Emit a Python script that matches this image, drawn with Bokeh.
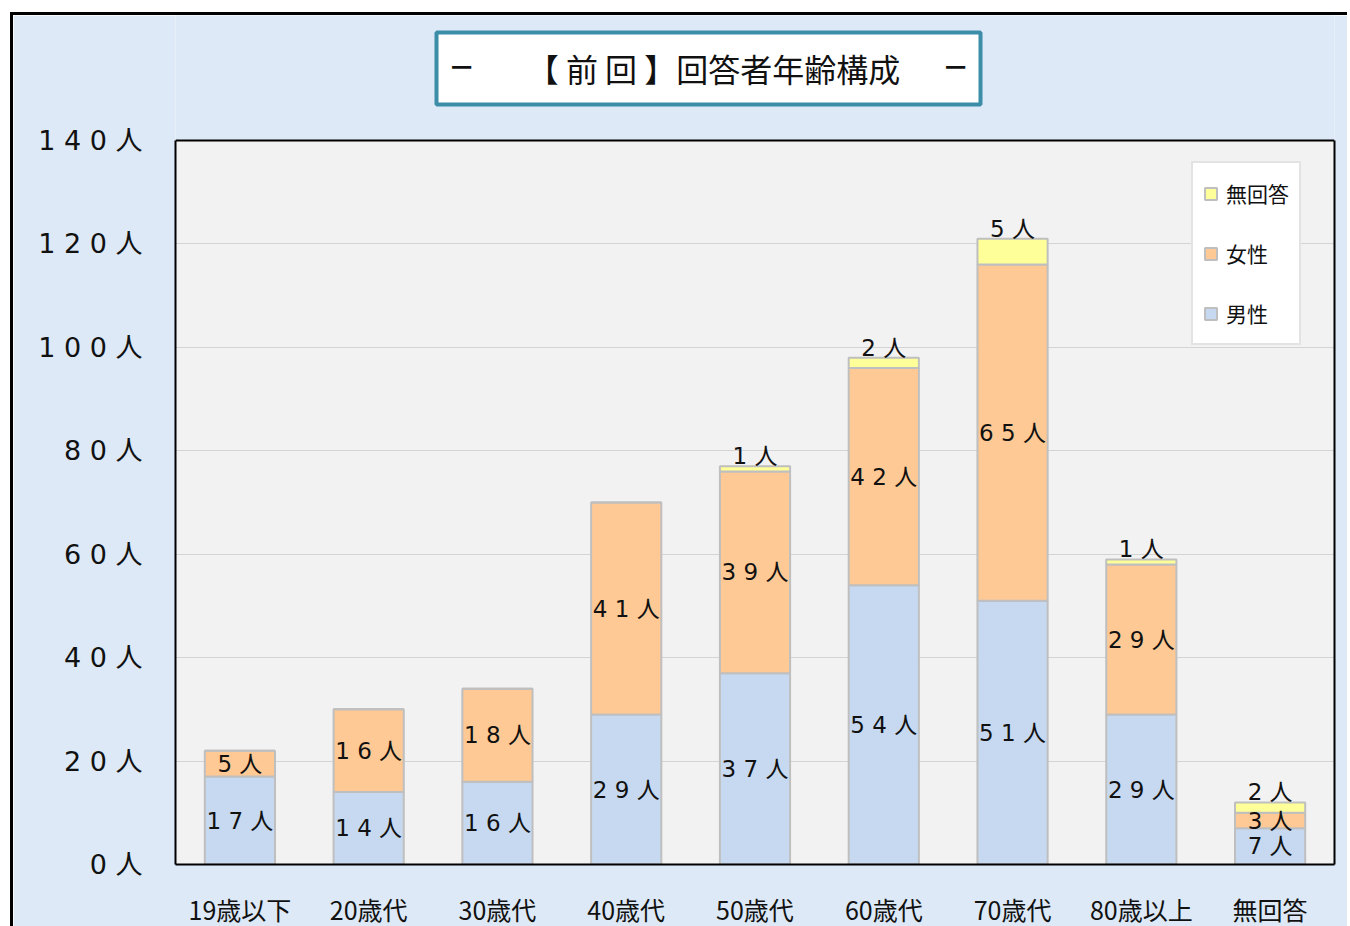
from bokeh.plotting import figure
from bokeh.models import (FactorRange, Range1d, FixedTicker, LinearAxis,
                          Legend, LegendItem, ColumnDataSource)
from bokeh.embed import file_html
from bokeh.resources import INLINE
from bokeh.core.properties import value

# ---------------- data ----------------
categories = ["19歳以下", "20歳代", "30歳代", "40歳代", "50歳代", "60歳代", "70歳代", "80歳以上", "無回答"]
male = [17, 14, 16, 29, 37, 54, 51, 29, 7]
female = [5, 16, 18, 41, 39, 42, 65, 29, 3]
no_answer = [0, 0, 0, 0, 1, 2, 5, 1, 2]
series_names = ["男性", "女性", "無回答"]
y_ticks = [0, 20, 40, 60, 80, 100, 120, 140]
y_tick_labels = ["0 人", "2 0 人", "4 0 人", "6 0 人", "8 0 人", "1 0 0 人", "1 2 0 人", "1 4 0 人"]
title_text = "【 前 回 】回答者年齢構成"
title_dash = "−"
unit = "人"

# ---------------- style / layout ----------------
colors = ["#c6d9f0", "#fec994", "#ffff99"]
BG = "#dde9f6"
PLOT_BG = "#f2f2f2"
CJK = "Noto Sans CJK JP"
NUMF = "DejaVu Sans, Noto Sans CJK JP"
BORDER = 3
CX, CY = 10 + BORDER, 12 + BORDER      # canvas origin on the page (after css margin + border)
WC, HC = 1350 - CX, 926 - CY           # canvas size
FL, FR, FT, FB = 175, 1334, 140, 864   # plot-area edges in page pixels
Y_MAX = 140
Y_TOP = (FB - CY) / (FB - FT) * Y_MAX  # frame extends up to the canvas top (title area)

p = figure(x_range=FactorRange(*categories), y_range=Range1d(0, Y_TOP),
           width=WC, height=HC + BORDER, output_backend="svg", toolbar_location=None,
           min_border_left=FL - CX, min_border_right=CX + WC - FR,
           min_border_top=0, min_border_bottom=CY + HC - FB)
p.x_range.range_padding = 0
p.background_fill_color = BG
p.border_fill_color = BG
p.outline_line_color = None
p.styles = {"margin-left": "10px", "margin-top": "12px",
            "border-left": f"{BORDER}px solid black", "border-top": f"{BORDER}px solid black"}


def ux(px):
    return (px - FL) / (FR - FL) * len(categories)


def vy(py):
    return (FB - py) / (FB - FT) * Y_MAX


# plot-area background (under the grid)
p.quad(left=[0], right=[len(categories)], bottom=[0], top=[Y_MAX],
       fill_color=PLOT_BG, line_color=None, level="image")

# bars
src = ColumnDataSource(dict(cat=categories, male=male, female=female, no_answer=no_answer))
rs = p.vbar_stack(["male", "female", "no_answer"], x="cat", width=0.545, source=src,
                  fill_color=colors, line_color="#bfbfbf", line_width=2)


def spaced(v):
    return " ".join(list(str(v)) + [unit])


# data labels: centred in male / female segments
mx, my, mt = [], [], []
for c, m, f in zip(categories, male, female):
    if m:
        mx.append(c); my.append(m / 2); mt.append(spaced(m))
    if f:
        mx.append(c); my.append(m + f / 2); mt.append(spaced(f))
p.text(x="x", y="y", text="t", source=ColumnDataSource(dict(x=mx, y=my, t=mt)),
       text_font=value(NUMF), text_font_size="23px", text_color="#111111",
       text_align="center", text_baseline="middle")

# no-answer labels sit on top of the stack
tx, ty, tt = [], [], []
for c, m, f, n in zip(categories, male, female, no_answer):
    if n:
        tx.append(c); ty.append(m + f + n); tt.append(spaced(n))
p.text(x="x", y="y", text="t", source=ColumnDataSource(dict(x=tx, y=ty, t=tt)),
       text_font=value(NUMF), text_font_size="23px", text_color="#111111",
       text_align="center", text_baseline="bottom", y_offset=3)

# top border of plot area
p.hspan(y=[Y_MAX], line_color="black", line_width=2)

# grid
p.xgrid.grid_line_color = None
p.ygrid.ticker = FixedTicker(ticks=y_ticks[1:-1])
p.ygrid.grid_line_color = "#d4d4d4"
p.ygrid.grid_line_width = 1

# axes
p.yaxis.ticker = FixedTicker(ticks=y_ticks)
p.yaxis.bounds = (0, Y_MAX)
p.yaxis.major_label_overrides = {t: l for t, l in zip(y_ticks, y_tick_labels)}
p.yaxis.axis_line_color = "black"
p.yaxis.axis_line_width = 2
p.yaxis.major_tick_line_color = None
p.yaxis.minor_tick_line_color = None
p.yaxis.major_label_standoff = 27
p.yaxis.major_label_text_font = NUMF
p.yaxis.major_label_text_font_size = "27px"
p.yaxis.major_label_text_color = "#111111"

right_axis = LinearAxis(ticker=FixedTicker(ticks=[]), bounds=(0, Y_MAX),
                        axis_line_color="black", axis_line_width=2,
                        major_tick_line_color=None, minor_tick_line_color=None)
p.add_layout(right_axis, "right")

p.xaxis.axis_line_color = "black"
p.xaxis.axis_line_width = 2
p.xaxis.major_tick_line_color = None
p.xaxis.major_label_standoff = 20
p.xaxis.major_label_text_font = CJK
p.xaxis.major_label_text_font_size = "25px"
p.xaxis.major_label_text_color = "#111111"

# legend
legend = Legend(items=[LegendItem(label=series_names[2], renderers=[rs[2]]),
                       LegendItem(label=series_names[1], renderers=[rs[1]]),
                       LegendItem(label=series_names[0], renderers=[rs[0]])],
                location=(1191 - FL, FB - 345))
legend.label_text_font = CJK
legend.label_text_font_size = "21px"
legend.label_text_color = "#111111"
legend.glyph_width = 15
legend.glyph_height = 15
legend.label_standoff = 8
legend.padding = 10
legend.spacing = 20
legend.label_height = 40
legend.border_line_color = "#c8c8c8"
legend.border_line_width = 2
legend.background_fill_color = "white"
legend.background_fill_alpha = 1
p.add_layout(legend, "center")

# title box
p.quad(left=[ux(436)], right=[ux(980)], bottom=[vy(104)], top=[vy(32)],
       fill_color="white", line_color="#3b8da8", line_width=4)
p.text(x=[ux(713)], y=[vy(67)], text=[title_text],
       text_font=value(CJK), text_font_size="32px", text_color="#111111",
       text_align="center", text_baseline="middle")
p.text(x=[ux(461), ux(955)], y=[vy(67)] * 2, text=[title_dash, title_dash],
       text_font=value(CJK), text_font_size="40px", text_color="#111111",
       text_align="center", text_baseline="middle")

open("out.html", "w").write(file_html(p, INLINE))
